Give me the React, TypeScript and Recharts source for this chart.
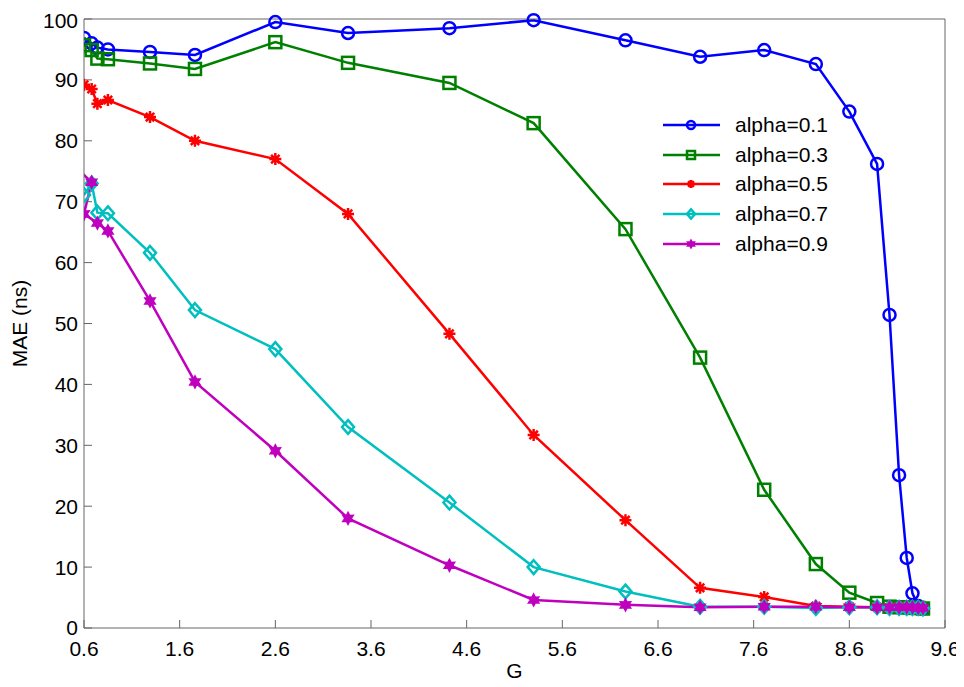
import React from 'react';
import { LineChart, Line, XAxis, YAxis, Legend } from 'recharts';

// G values shared by most of the series
const gValues = [0.6, 0.68, 0.74, 0.85, 1.29, 1.76, 2.6, 3.36, 4.42, 5.3, 6.26, 7.04, 7.71, 8.25, 8.6, 8.89, 9.02, 9.12, 9.2, 9.26, 9.32, 9.37];
// alpha=0.9 starts a little left of the axis and doubles back
const gValuesA9 = [0.52, 0.68, 0.6, 0.74, 0.85, 1.29, 1.76, 2.6, 3.36, 4.42, 5.3, 6.26, 7.04, 7.71, 8.25, 8.6, 8.89, 9.02, 9.12, 9.2, 9.26, 9.32, 9.37];

const maeA1 = [96.9, 96.0, 95.3, 95.0, 94.6, 94.1, 99.5, 97.7, 98.5, 99.8, 96.5, 93.8, 94.9, 92.6, 84.8, 76.2, 51.4, 25.1, 11.5, 5.7, 3.6, 3.2];
const maeA3 = [95.7, 94.9, 93.5, 93.4, 92.7, 91.8, 96.2, 92.8, 89.5, 82.9, 65.5, 44.4, 22.7, 10.5, 5.8, 4.1, 3.5, 3.4, 3.4, 3.3, 3.3, 3.2];
const maeA5 = [89.2, 88.5, 86.1, 86.7, 83.9, 80.0, 77.0, 68.0, 48.3, 31.7, 17.7, 6.6, 5.1, 3.6, 3.5, 3.4, 3.4, 3.4, 3.4, 3.4, 3.3, 3.3];
const maeA7 = [71.1, 73.0, 68.2, 68.1, 61.6, 52.2, 45.8, 33.0, 20.6, 10.0, 6.0, 3.5, 3.5, 3.3, 3.4, 3.4, 3.3, 3.3, 3.3, 3.3, 3.3, 3.2];
const maeA9 = [75.6, 73.2, 68.0, 66.5, 65.2, 53.7, 40.4, 29.1, 18.0, 10.3, 4.6, 3.8, 3.4, 3.5, 3.5, 3.4, 3.4, 3.4, 3.4, 3.4, 3.4, 3.3, 3.3];

const xTicks = [0.6, 1.6, 2.6, 3.6, 4.6, 5.6, 6.6, 7.6, 8.6, 9.6];
const yTicks = [0, 10, 20, 30, 40, 50, 60, 70, 80, 90, 100];

type MarkerKind = 'circle' | 'square' | 'asterisk' | 'diamond' | 'hexagram';

const series: { name: string; color: string; marker: MarkerKind; g: number[]; v: number[] }[] = [
    { name: 'alpha=0.1', color: '#0000ff', marker: 'circle', g: gValues, v: maeA1 },
    { name: 'alpha=0.3', color: '#008000', marker: 'square', g: gValues, v: maeA3 },
    { name: 'alpha=0.5', color: '#ff0000', marker: 'asterisk', g: gValues, v: maeA5 },
    { name: 'alpha=0.7', color: '#00bfbf', marker: 'diamond', g: gValues, v: maeA7 },
    { name: 'alpha=0.9', color: '#bf00bf', marker: 'hexagram', g: gValuesA9, v: maeA9 },
];

const FONT = '"Liberation Sans", Arial, sans-serif';

const Marker = ({ kind, cx, cy, color, s }: { kind: MarkerKind; cx: number; cy: number; color: string; s: number }) => {
    const sw = 2.5;
    if (kind === 'circle') return <circle cx={cx} cy={cy} r={s} fill="none" stroke={color} strokeWidth={sw} />;
    if (kind === 'square') return <rect x={cx - s} y={cy - s} width={2 * s} height={2 * s} fill="none" stroke={color} strokeWidth={sw} />;
    if (kind === 'diamond') {
        const d = `M${cx},${cy - s * 1.15}L${cx + s},${cy}L${cx},${cy + s * 1.15}L${cx - s},${cy}Z`;
        return <path d={d} fill="none" stroke={color} strokeWidth={sw} />;
    }
    if (kind === 'asterisk') {
        const k = s * 0.7;
        const d = `M${cx - s},${cy}L${cx + s},${cy}M${cx},${cy - s}L${cx},${cy + s}M${cx - k},${cy - k}L${cx + k},${cy + k}M${cx - k},${cy + k}L${cx + k},${cy - k}`;
        return <path d={d} fill="none" stroke={color} strokeWidth={sw} />;
    }
    // hexagram
    const pts: string[] = [];
    for (let i = 0; i < 12; i++) {
        const r = i % 2 === 0 ? s : s * 0.55;
        const a = (Math.PI / 6) * i - Math.PI / 2;
        pts.push(`${cx + r * Math.cos(a)},${cy + r * Math.sin(a)}`);
    }
    return <polygon points={pts.join(' ')} fill={color} stroke={color} strokeWidth={1.5} />;
};

const renderLegend = () => (
    <div style={{ fontFamily: FONT, fontSize: 21, color: '#000' }}>
        {series.map(s => (
            <div key={s.name} style={{ display: 'flex', alignItems: 'center', height: 29.7 }}>
                <svg width={70} height={20} style={{ display: 'block' }}>
                    <line x1={0} y1={10} x2={57} y2={10} stroke={s.color} strokeWidth={2.5} />
                    <Marker kind={s.marker} cx={28} cy={10} color={s.color} s={4} />
                </svg>
                <span style={{ marginLeft: 2 }}>{s.name}</span>
            </div>
        ))}
    </div>
);

const tickStyle = { fontFamily: FONT, fontSize: 21, fill: '#000' };

export default function App() {
    return (
        <div style={{ width: 956, height: 679, background: '#fff' }}>
            <LineChart width={956} height={679} margin={{ top: 10, right: 18, left: 12, bottom: 4 }}>
                <XAxis
                    xAxisId="b"
                    dataKey="g"
                    type="number"
                    domain={[0.6, 9.6]}
                    allowDataOverflow
                    ticks={xTicks}
                    tickFormatter={(v: number) => v.toFixed(1)}
                    height={55}
                    tickSize={-8}
                    tickMargin={21}
                    tick={tickStyle}
                    axisLine={{ stroke: '#666' }}
                    tickLine={{ stroke: '#666' }}
                    label={{ value: 'G', position: 'insideBottom', offset: 5, style: { fontFamily: FONT, fontSize: 21, fill: '#000' } }}
                />
                <XAxis
                    xAxisId="t"
                    orientation="top"
                    type="number"
                    domain={[0.6, 9.6]}
                    allowDataOverflow
                    ticks={xTicks}
                    height={1}
                    tickSize={-8}
                    tick={false}
                    axisLine={{ stroke: '#666' }}
                    tickLine={{ stroke: '#666' }}
                />
                <YAxis
                    yAxisId="l"
                    type="number"
                    domain={[0, 100]}
                    ticks={yTicks}
                    width={64}
                    tickSize={-8}
                    tickMargin={14}
                    tick={tickStyle}
                    axisLine={{ stroke: '#666' }}
                    tickLine={{ stroke: '#666' }}
                    label={{ value: 'MAE (ns)', angle: -90, position: 'insideLeft', offset: 0, style: { fontFamily: FONT, fontSize: 21, fill: '#000', textAnchor: 'middle' } }}
                />
                <YAxis
                    yAxisId="r"
                    orientation="right"
                    type="number"
                    domain={[0, 100]}
                    ticks={yTicks}
                    width={1}
                    tickSize={-8}
                    tick={false}
                    axisLine={{ stroke: '#666' }}
                    tickLine={{ stroke: '#666' }}
                />
                <Legend
                    verticalAlign="middle"
                    align="center"
                    layout="horizontal"
                    content={renderLegend}
                    wrapperStyle={{ position: 'absolute', left: 655, top: 102, width: 220 }}
                />
                {series.map(s => (
                    <Line
                        key={s.name}
                        xAxisId="b"
                        yAxisId="l"
                        data={s.g.map((g, i) => ({ g, v: s.v[i] }))}
                        dataKey="v"
                        name={s.name}
                        type="linear"
                        stroke={s.color}
                        strokeWidth={2.5}
                        isAnimationActive={false}
                        dot={(p: any) => <Marker key={`${s.name}-${p.index}`} kind={s.marker} cx={p.cx} cy={p.cy} color={s.color} s={6} />}
                        activeDot={false}
                    />
                ))}
            </LineChart>
        </div>
    );
}
